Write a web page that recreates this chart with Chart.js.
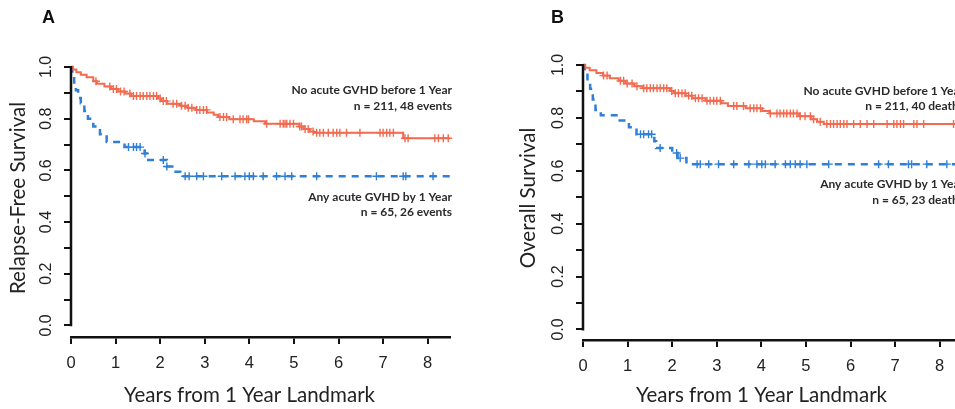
<!DOCTYPE html>
<html>
<head>
<meta charset="utf-8">
<script src="https://cdn.jsdelivr.net/npm/chart.js@4.4.1/dist/chart.umd.min.js"></script>
<style>
  html, body { margin: 0; padding: 0; background: #fff; overflow: hidden; }
  body { width: 955px; height: 409px; position: relative; }
  .panel { position: absolute; top: 0; height: 409px; }
  #panelA { left: 0; width: 480px; }
  #panelB { left: 480px; width: 500px; }
  .letter { position: absolute; top: 7px; font: bold 18px "Liberation Sans", Arial, sans-serif; color: #111; }
</style>
</head>
<body>
<div class="panel" id="panelA"><canvas id="chartA" width="480" height="409"></canvas></div>
<div class="panel" id="panelB"><canvas id="chartB" width="500" height="409"></canvas></div>
<div class="letter" style="left:42px">A</div>
<div class="letter" style="left:551px">B</div>

<script>
// Axis ticks
const xTicks = [0, 1, 2, 3, 4, 5, 6, 7, 8];
const yTicks = [0, 0.1, 0.2, 0.3, 0.4, 0.5, 0.6, 0.7, 0.8, 0.9, 1.0];
const yTickLabels = ['0.0', '', '0.2', '', '0.4', '', '0.6', '', '0.8', '', '1.0'];

// Panel A - relapse-free survival (step points: time, survival)
const rfsNoTimes = [0, 0.04, 0.12, 0.22, 0.35, 0.5, 0.58, 0.75, 0.9, 1.05, 1.22, 1.35, 1.95, 2.03, 2.15, 2.45, 2.62, 2.8, 3.05, 3.2, 3.3, 3.55, 4.1, 4.35, 5.12, 5.22, 5.35, 5.45, 7.45, 8.5];
const rfsNoSurv  = [1, 0.99, 0.98, 0.97, 0.96, 0.945, 0.935, 0.925, 0.915, 0.905, 0.897, 0.888, 0.878, 0.868, 0.858, 0.85, 0.842, 0.834, 0.824, 0.815, 0.806, 0.798, 0.79, 0.78, 0.77, 0.76, 0.75, 0.746, 0.724, 0.724];
const rfsNoCensor = [0.56, 0.87, 0.95, 1.02, 1.11, 1.19, 1.32, 1.4, 1.47, 1.55, 1.62, 1.7, 1.77, 1.85, 1.92, 2.0, 2.07, 2.14, 2.29, 2.37, 2.48, 2.56, 2.63, 2.71, 2.82, 2.89, 2.97, 3.04, 3.34, 3.42, 3.49, 3.64, 3.79, 3.86, 3.94, 3.98, 4.39, 4.69, 4.76, 4.8, 4.84, 4.91, 4.99, 5.13, 5.17, 5.25, 5.32, 5.43, 5.51, 5.58, 5.66, 5.77, 5.88, 5.96, 6.03, 6.18, 6.48, 6.93, 7.0, 7.08, 7.15, 7.23, 7.49, 7.56, 8.16, 8.24, 8.35, 8.46];

const rfsAnyTimes = [0, 0.03, 0.07, 0.11, 0.16, 0.22, 0.3, 0.38, 0.5, 0.65, 0.8, 1.2, 1.65, 1.7, 2.15, 2.3, 2.45, 8.5];
const rfsAnySurv  = [1, 0.97, 0.94, 0.91, 0.88, 0.86, 0.83, 0.8, 0.77, 0.74, 0.71, 0.69, 0.665, 0.64, 0.615, 0.595, 0.577, 0.577];
const rfsAnyCensor = [1.29, 1.4, 1.47, 1.55, 1.66, 2.07, 2.15, 2.56, 2.65, 2.82, 2.97, 3.38, 3.68, 3.9, 4.0, 4.09, 4.31, 4.61, 4.8, 4.95, 5.51, 6.85, 7.45, 7.51, 8.12];

// Panel B - overall survival
const osNoTimes = [0, 0.05, 0.15, 0.3, 0.45, 0.6, 0.8, 0.95, 1.15, 1.35, 1.95, 2.05, 2.3, 2.45, 2.75, 3.1, 3.25, 3.65, 4.02, 4.18, 4.85, 5.12, 5.25, 5.4, 8.5];
const osNoSurv  = [1, 0.99, 0.98, 0.97, 0.96, 0.95, 0.94, 0.93, 0.92, 0.912, 0.902, 0.893, 0.884, 0.874, 0.865, 0.855, 0.845, 0.836, 0.826, 0.817, 0.806, 0.795, 0.785, 0.777, 0.777];
const osNoCensor = [0.46, 0.54, 0.84, 0.91, 0.99, 1.1, 1.21, 1.36, 1.43, 1.51, 1.58, 1.66, 1.73, 1.81, 1.88, 1.99, 2.07, 2.14, 2.22, 2.29, 2.37, 2.44, 2.52, 2.59, 2.67, 2.78, 2.85, 2.93, 3.0, 3.08, 3.38, 3.45, 3.6, 3.75, 3.83, 3.9, 3.98, 4.2, 4.35, 4.42, 4.5, 4.57, 4.65, 4.72, 4.8, 4.87, 4.98, 5.1, 5.17, 5.32, 5.47, 5.55, 5.62, 5.7, 5.77, 5.85, 5.92, 6.07, 6.22, 6.37, 6.52, 6.82, 6.97, 7.04, 7.12, 7.19, 7.42, 7.49, 7.64, 8.31];

const osAnyTimes = [0, 0.04, 0.1, 0.16, 0.22, 0.28, 0.4, 0.75, 1.03, 1.2, 1.6, 1.64, 2.0, 2.12, 2.32, 8.5];
const osAnySurv  = [1, 0.97, 0.94, 0.91, 0.87, 0.83, 0.81, 0.79, 0.765, 0.738, 0.712, 0.686, 0.667, 0.648, 0.625, 0.625];
const osAnyCensor = [1.29, 1.36, 1.47, 1.54, 1.73, 2.1, 2.18, 2.56, 2.63, 2.82, 3.04, 3.38, 3.72, 3.9, 4.01, 4.09, 4.31, 4.54, 4.65, 4.76, 4.87, 5.02, 5.51, 6.63, 6.85, 7.3, 7.37, 7.71, 8.16];

const RED = '#f36a4f';
const BLUE = '#2f7fd6';
const AXIS = '#111111';
const TEXT = '#222222';
const TITLE_FONT = '20.5px Lato, "Open Sans", sans-serif';

// survival value in effect at time t (for censor marks)
function survAt(times, surv, t) {
  let s = surv[0];
  for (let i = 0; i < times.length; i++) {
    if (times[i] <= t) s = surv[i];
  }
  return s;
}

function curve(times, surv) {
  return times.map((t, i) => ({ x: t, y: surv[i] }));
}

function censors(times, surv, cens) {
  return cens.map(t => ({ x: t, y: survAt(times, surv, t) }));
}

// y axis line (0..1 only), rotated y labels, axis titles and group notes
const kmExtras = {
  id: 'kmExtras',
  afterDraw(chart, args, opts) {
    const ctx = chart.ctx;
    const xs = chart.scales.x;
    const ys = chart.scales.y;
    const left = chart.chartArea.left;
    ctx.save();
    ctx.strokeStyle = AXIS;
    ctx.lineWidth = 2.5;
    ctx.beginPath();
    ctx.moveTo(left, ys.getPixelForValue(0) + 1);
    ctx.lineTo(left, ys.getPixelForValue(1) - 1);
    ctx.stroke();

    ctx.fillStyle = TEXT;
    ctx.font = '16px "Liberation Sans", Arial, sans-serif';
    ctx.textAlign = 'center';
    ctx.textBaseline = 'middle';
    yTicks.forEach((v, i) => {
      if (!yTickLabels[i]) return;
      ctx.save();
      ctx.translate(left - 24, ys.getPixelForValue(v));
      ctx.rotate(-Math.PI / 2);
      ctx.fillText(yTickLabels[i], 0, 0);
      ctx.restore();
    });

    // axis titles
    ctx.font = TITLE_FONT;
    ctx.fillText('Years from 1 Year Landmark', left + 178.5, 395);
    ctx.save();
    ctx.translate(opts.yTitleX, 198);
    ctx.rotate(-Math.PI / 2);
    ctx.fillText(opts.yTitle, 0, 0);
    ctx.restore();

    ctx.font = 'bold 12px Lato, "Open Sans", sans-serif';
    ctx.fillStyle = '#2a2a2a';
    ctx.textAlign = 'right';
    const right = xs.getPixelForValue(8.5) + 2;
    opts.notes.forEach(n => {
      ctx.fillText(n.text, right, ys.getPixelForValue(n.y));
    });
    ctx.restore();
  }
};

function makePanel(id, p) {
  new Chart(document.getElementById(id), {
    type: 'scatter',
    data: {
      datasets: [
        { data: curve(p.noT, p.noS), showLine: true, stepped: true, borderColor: RED, borderWidth: 2, pointRadius: 0, clip: false },
        { data: censors(p.noT, p.noS, p.noC), showLine: false, pointStyle: 'cross', pointRadius: 4, pointBorderColor: RED, pointBorderWidth: 1.4, clip: false },
        { data: curve(p.anyT, p.anyS), showLine: true, stepped: true, borderColor: BLUE, borderWidth: 2.5, borderDash: [7, 6], pointRadius: 0, clip: false },
        { data: censors(p.anyT, p.anyS, p.anyC), showLine: false, pointStyle: 'cross', pointRadius: 4, pointBorderColor: BLUE, pointBorderWidth: 1.4, clip: false }
      ]
    },
    options: {
      responsive: false,
      animation: false,
      events: [],
      layout: { padding: { left: 0, top: p.top, right: p.right, bottom: 0 } },
      plugins: {
        legend: { display: false },
        tooltip: { enabled: false },
        kmExtras: { notes: p.notes, yTitle: p.yTitle, yTitleX: p.yTitleX }
      },
      scales: {
        x: {
          type: 'linear', min: 0, max: 8.5,
          afterBuildTicks: s => { s.ticks = xTicks.map(v => ({ value: v })); },
          afterFit: s => { s.height = p.xHeight; },
          ticks: { color: TEXT, padding: 10, font: { family: '"Liberation Sans", Arial, sans-serif', size: 16.5 } },
          grid: { drawOnChartArea: false, drawTicks: true, tickLength: 7, color: AXIS, lineWidth: 2 },
          border: { display: true, color: AXIS, width: 2.5 }
        },
        y: {
          type: 'linear', min: p.yMin, max: 1,
          afterBuildTicks: s => { s.ticks = yTicks.map(v => ({ value: v })); },
          afterFit: s => { s.width = p.yWidth; },
          ticks: { display: false },
          grid: { drawOnChartArea: false, drawTicks: true, tickLength: 7, color: AXIS, lineWidth: 2 },
          border: { display: false }
        }
      }
    },
    plugins: [kmExtras]
  });
}

makePanel('chartA', {
  noT: rfsNoTimes, noS: rfsNoSurv, noC: rfsNoCensor,
  anyT: rfsAnyTimes, anyS: rfsAnySurv, anyC: rfsAnyCensor,
  yTitle: 'Relapse-Free Survival', yTitleX: 18,
  top: 67, right: 30, xHeight: 72, yWidth: 71, yMin: -0.045,
  notes: [
    { text: 'No acute GVHD before 1 Year', y: 0.911 },
    { text: 'n = 211, 48 events', y: 0.849 },
    { text: 'Any acute GVHD by 1 Year', y: 0.496 },
    { text: 'n = 65, 26 events', y: 0.438 }
  ]
});

makePanel('chartB', {
  noT: osNoTimes, noS: osNoSurv, noC: osNoCensor,
  anyT: osAnyTimes, anyS: osAnySurv, anyC: osAnyCensor,
  yTitle: 'Overall Survival', yTitleX: 48,
  top: 65, right: 18, xHeight: 69, yWidth: 103, yMin: -0.04,
  notes: [
    { text: 'No acute GVHD before 1 Year', y: 0.902 },
    { text: 'n = 211, 40 deaths', y: 0.845 },
    { text: 'Any acute GVHD by 1 Year', y: 0.55 },
    { text: 'n = 65, 23 deaths', y: 0.489 }
  ]
});
</script>
</body>
</html>
